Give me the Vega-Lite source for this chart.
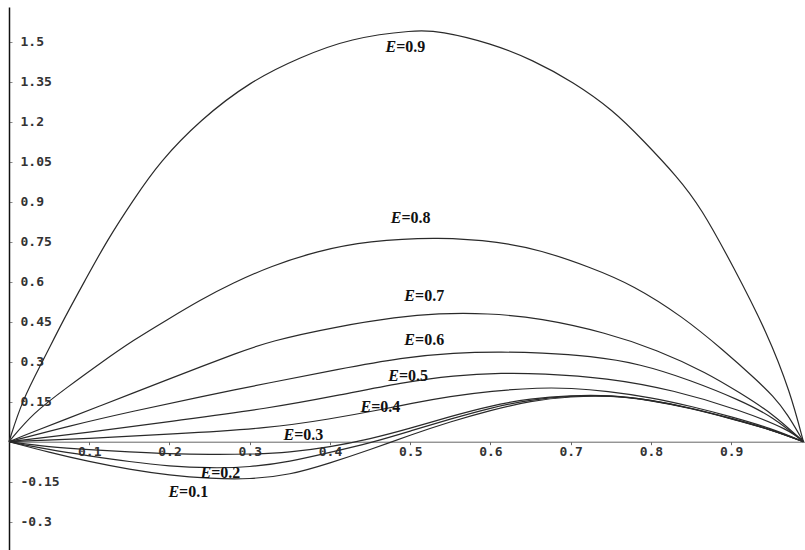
{
  "$schema": "https://vega.github.io/schema/vega-lite/v6.json",
  "width": 796,
  "height": 543,
  "autosize": {"type": "none"},
  "padding": {"left": 9, "top": 7, "right": 0, "bottom": 0},
  "background": "white",
  "config": {"view": {"stroke": null}},
  "datasets": {
    "curves": [
      {"E": "0.9", "x": 0, "y": 0}, {"E": "0.9", "x": 0.0165, "y": 0.156}, {"E": "0.9", "x": 0.0427, "y": 0.306}, {"E": "0.9", "x": 0.0676, "y": 0.456}, {"E": "0.9", "x": 0.095, "y": 0.606}, {"E": "0.9", "x": 0.1224, "y": 0.756}, {"E": "0.9", "x": 0.1548, "y": 0.906}, {"E": "0.9", "x": 0.188, "y": 1.05}, {"E": "0.9", "x": 0.238, "y": 1.206}, {"E": "0.9", "x": 0.301, "y": 1.352}, {"E": "0.9", "x": 0.363, "y": 1.442}, {"E": "0.9", "x": 0.425, "y": 1.513}, {"E": "0.9", "x": 0.506, "y": 1.544}, {"E": "0.9", "x": 0.537, "y": 1.54}, {"E": "0.9", "x": 0.6, "y": 1.495}, {"E": "0.9", "x": 0.653, "y": 1.431}, {"E": "0.9", "x": 0.703, "y": 1.349}, {"E": "0.9", "x": 0.753, "y": 1.243}, {"E": "0.9", "x": 0.79, "y": 1.131}, {"E": "0.9", "x": 0.833, "y": 0.993}, {"E": "0.9", "x": 0.862, "y": 0.88}, {"E": "0.9", "x": 0.903, "y": 0.655}, {"E": "0.9", "x": 0.945, "y": 0.408}, {"E": "0.9", "x": 0.974, "y": 0.183}, {"E": "0.9", "x": 0.99, "y": 0},

      {"E": "0.8", "x": 0, "y": 0}, {"E": "0.8", "x": 0.03, "y": 0.108}, {"E": "0.8", "x": 0.073, "y": 0.205}, {"E": "0.8", "x": 0.114, "y": 0.295}, {"E": "0.8", "x": 0.155, "y": 0.381}, {"E": "0.8", "x": 0.197, "y": 0.457}, {"E": "0.8", "x": 0.238, "y": 0.531}, {"E": "0.8", "x": 0.279, "y": 0.595}, {"E": "0.8", "x": 0.326, "y": 0.658}, {"E": "0.8", "x": 0.384, "y": 0.715}, {"E": "0.8", "x": 0.447, "y": 0.753}, {"E": "0.8", "x": 0.537, "y": 0.768}, {"E": "0.8", "x": 0.612, "y": 0.749}, {"E": "0.8", "x": 0.662, "y": 0.719}, {"E": "0.8", "x": 0.724, "y": 0.655}, {"E": "0.8", "x": 0.778, "y": 0.587}, {"E": "0.8", "x": 0.84, "y": 0.468}, {"E": "0.8", "x": 0.89, "y": 0.344}, {"E": "0.8", "x": 0.932, "y": 0.231}, {"E": "0.8", "x": 0.952, "y": 0.172}, {"E": "0.8", "x": 0.97, "y": 0.105}, {"E": "0.8", "x": 0.99, "y": 0},

      {"E": "0.7", "x": 0, "y": 0}, {"E": "0.7", "x": 0.03, "y": 0.037}, {"E": "0.7", "x": 0.073, "y": 0.087}, {"E": "0.7", "x": 0.114, "y": 0.135}, {"E": "0.7", "x": 0.155, "y": 0.183}, {"E": "0.7", "x": 0.197, "y": 0.232}, {"E": "0.7", "x": 0.238, "y": 0.28}, {"E": "0.7", "x": 0.279, "y": 0.327}, {"E": "0.7", "x": 0.326, "y": 0.378}, {"E": "0.7", "x": 0.409, "y": 0.432}, {"E": "0.7", "x": 0.484, "y": 0.468}, {"E": "0.7", "x": 0.534, "y": 0.481}, {"E": "0.7", "x": 0.596, "y": 0.482}, {"E": "0.7", "x": 0.662, "y": 0.464}, {"E": "0.7", "x": 0.745, "y": 0.408}, {"E": "0.7", "x": 0.808, "y": 0.344}, {"E": "0.7", "x": 0.87, "y": 0.258}, {"E": "0.7", "x": 0.911, "y": 0.183}, {"E": "0.7", "x": 0.952, "y": 0.105}, {"E": "0.7", "x": 0.99, "y": 0},

      {"E": "0.6", "x": 0, "y": 0}, {"E": "0.6", "x": 0.073, "y": 0.058}, {"E": "0.6", "x": 0.155, "y": 0.115}, {"E": "0.6", "x": 0.238, "y": 0.168}, {"E": "0.6", "x": 0.326, "y": 0.222}, {"E": "0.6", "x": 0.409, "y": 0.271}, {"E": "0.6", "x": 0.491, "y": 0.316}, {"E": "0.6", "x": 0.554, "y": 0.334}, {"E": "0.6", "x": 0.616, "y": 0.337}, {"E": "0.6", "x": 0.662, "y": 0.333}, {"E": "0.6", "x": 0.724, "y": 0.322}, {"E": "0.6", "x": 0.787, "y": 0.292}, {"E": "0.6", "x": 0.849, "y": 0.231}, {"E": "0.6", "x": 0.911, "y": 0.156}, {"E": "0.6", "x": 0.952, "y": 0.093}, {"E": "0.6", "x": 0.99, "y": 0},

      {"E": "0.5", "x": 0, "y": 0}, {"E": "0.5", "x": 0.1, "y": 0.035}, {"E": "0.5", "x": 0.2, "y": 0.076}, {"E": "0.5", "x": 0.326, "y": 0.126}, {"E": "0.5", "x": 0.409, "y": 0.173}, {"E": "0.5", "x": 0.491, "y": 0.223}, {"E": "0.5", "x": 0.554, "y": 0.249}, {"E": "0.5", "x": 0.616, "y": 0.258}, {"E": "0.5", "x": 0.662, "y": 0.256}, {"E": "0.5", "x": 0.745, "y": 0.24}, {"E": "0.5", "x": 0.828, "y": 0.194}, {"E": "0.5", "x": 0.911, "y": 0.119}, {"E": "0.5", "x": 0.973, "y": 0.044}, {"E": "0.5", "x": 0.99, "y": 0},

      {"E": "0.4", "x": 0, "y": 0}, {"E": "0.4", "x": 0.1, "y": 0.012}, {"E": "0.4", "x": 0.2, "y": 0.028}, {"E": "0.4", "x": 0.326, "y": 0.051}, {"E": "0.4", "x": 0.4, "y": 0.085}, {"E": "0.4", "x": 0.463, "y": 0.12}, {"E": "0.4", "x": 0.5, "y": 0.143}, {"E": "0.4", "x": 0.55, "y": 0.17}, {"E": "0.4", "x": 0.6, "y": 0.19}, {"E": "0.4", "x": 0.662, "y": 0.203}, {"E": "0.4", "x": 0.7, "y": 0.201}, {"E": "0.4", "x": 0.745, "y": 0.19}, {"E": "0.4", "x": 0.8, "y": 0.166}, {"E": "0.4", "x": 0.85, "y": 0.133}, {"E": "0.4", "x": 0.9, "y": 0.094}, {"E": "0.4", "x": 0.95, "y": 0.05}, {"E": "0.4", "x": 0.99, "y": 0},

      {"E": "0.3", "x": 0, "y": 0}, {"E": "0.3", "x": 0.05, "y": -0.02}, {"E": "0.3", "x": 0.1, "y": -0.03}, {"E": "0.3", "x": 0.15, "y": -0.038}, {"E": "0.3", "x": 0.2, "y": -0.045}, {"E": "0.3", "x": 0.25, "y": -0.048}, {"E": "0.3", "x": 0.3, "y": -0.047}, {"E": "0.3", "x": 0.35, "y": -0.04}, {"E": "0.3", "x": 0.4, "y": -0.02}, {"E": "0.3", "x": 0.45, "y": 0.01}, {"E": "0.3", "x": 0.5, "y": 0.05}, {"E": "0.3", "x": 0.55, "y": 0.095}, {"E": "0.3", "x": 0.6, "y": 0.135}, {"E": "0.3", "x": 0.65, "y": 0.162}, {"E": "0.3", "x": 0.7, "y": 0.174}, {"E": "0.3", "x": 0.75, "y": 0.175}, {"E": "0.3", "x": 0.8, "y": 0.157}, {"E": "0.3", "x": 0.85, "y": 0.127}, {"E": "0.3", "x": 0.9, "y": 0.088}, {"E": "0.3", "x": 0.95, "y": 0.046}, {"E": "0.3", "x": 0.99, "y": 0},

      {"E": "0.2", "x": 0, "y": 0}, {"E": "0.2", "x": 0.05, "y": -0.03}, {"E": "0.2", "x": 0.1, "y": -0.053}, {"E": "0.2", "x": 0.15, "y": -0.075}, {"E": "0.2", "x": 0.2, "y": -0.092}, {"E": "0.2", "x": 0.25, "y": -0.099}, {"E": "0.2", "x": 0.3, "y": -0.096}, {"E": "0.2", "x": 0.35, "y": -0.075}, {"E": "0.2", "x": 0.4, "y": -0.04}, {"E": "0.2", "x": 0.45, "y": -0.005}, {"E": "0.2", "x": 0.5, "y": 0.04}, {"E": "0.2", "x": 0.55, "y": 0.085}, {"E": "0.2", "x": 0.6, "y": 0.127}, {"E": "0.2", "x": 0.65, "y": 0.158}, {"E": "0.2", "x": 0.7, "y": 0.172}, {"E": "0.2", "x": 0.75, "y": 0.174}, {"E": "0.2", "x": 0.8, "y": 0.156}, {"E": "0.2", "x": 0.85, "y": 0.126}, {"E": "0.2", "x": 0.9, "y": 0.087}, {"E": "0.2", "x": 0.95, "y": 0.045}, {"E": "0.2", "x": 0.99, "y": 0},

      {"E": "0.1", "x": 0, "y": 0}, {"E": "0.1", "x": 0.05, "y": -0.04}, {"E": "0.1", "x": 0.1, "y": -0.075}, {"E": "0.1", "x": 0.15, "y": -0.104}, {"E": "0.1", "x": 0.2, "y": -0.126}, {"E": "0.1", "x": 0.25, "y": -0.138}, {"E": "0.1", "x": 0.3, "y": -0.141}, {"E": "0.1", "x": 0.35, "y": -0.125}, {"E": "0.1", "x": 0.4, "y": -0.08}, {"E": "0.1", "x": 0.45, "y": -0.03}, {"E": "0.1", "x": 0.5, "y": 0.025}, {"E": "0.1", "x": 0.55, "y": 0.075}, {"E": "0.1", "x": 0.6, "y": 0.118}, {"E": "0.1", "x": 0.65, "y": 0.153}, {"E": "0.1", "x": 0.7, "y": 0.17}, {"E": "0.1", "x": 0.75, "y": 0.173}, {"E": "0.1", "x": 0.8, "y": 0.155}, {"E": "0.1", "x": 0.85, "y": 0.125}, {"E": "0.1", "x": 0.9, "y": 0.086}, {"E": "0.1", "x": 0.95, "y": 0.045}, {"E": "0.1", "x": 0.99, "y": 0}
    ],
    "labels": [
      {"E": "0.9", "t": "=0.9", "lx": 0.4826, "ly": 1.48},
      {"E": "0.8", "t": "=0.8", "lx": 0.489, "ly": 0.838},
      {"E": "0.7", "t": "=0.7", "lx": 0.506, "ly": 0.546},
      {"E": "0.6", "t": "=0.6", "lx": 0.506, "ly": 0.381},
      {"E": "0.5", "t": "=0.5", "lx": 0.486, "ly": 0.246},
      {"E": "0.4", "t": "=0.4", "lx": 0.4514, "ly": 0.13},
      {"E": "0.3", "t": "=0.3", "lx": 0.3554, "ly": 0.025},
      {"E": "0.2", "t": "=0.2", "lx": 0.252, "ly": -0.117},
      {"E": "0.1", "t": "=0.1", "lx": 0.212, "ly": -0.189}
    ]
  },
  "layer": [
    {
      "data": {"name": "curves"},
      "mark": {"type": "line", "interpolate": "basis", "color": "#2a2a2a", "strokeWidth": 1.2},
      "encoding": {
        "x": {
          "field": "x", "type": "quantitative",
          "scale": {"domain": [0, 0.992], "nice": false, "zero": false},
          "axis": {
            "values": [0.1, 0.2, 0.3, 0.4, 0.5, 0.6, 0.7, 0.8, 0.9],
            "format": ".1f",
            "offset": -108.3,
            "title": null, "grid": false,
            "domainColor": "#666", "domainWidth": 1,
            "tickColor": "#666", "tickSize": 3,
            "labelFont": "DejaVu Sans Mono", "labelFontSize": 13, "labelFontWeight": "bold",
            "labelColor": "#333", "labelPadding": 1,
            "labelFlush": false, "labelOverlap": false
          }
        },
        "y": {
          "field": "y", "type": "quantitative",
          "scale": {"domain": [-0.406, 1.63], "nice": false, "zero": false},
          "axis": {
            "values": [-0.3, -0.15, 0.15, 0.3, 0.45, 0.6, 0.75, 0.9, 1.05, 1.2, 1.35, 1.5],
            "labelExpr": "datum.value < 0 ? '-' + format(-datum.value, '.2~f') : format(datum.value, '.2~f')",
            "title": null, "grid": false,
            "domainColor": "#111", "domainWidth": 1.5,
            "tickColor": "#888", "tickSize": -3,
            "labelFont": "DejaVu Sans Mono", "labelFontSize": 13, "labelFontWeight": "bold",
            "labelColor": "#333", "labelAlign": "left", "labelBaseline": "middle",
            "labelPadding": -8, "labelFlush": false, "labelOverlap": false
          }
        },
        "detail": {"field": "E", "type": "nominal"}
      }
    },
    {
      "data": {"name": "labels"},
      "mark": {"type": "text", "align": "right", "baseline": "middle", "font": "Liberation Serif", "fontSize": 16, "fontStyle": "italic", "fontWeight": "bold", "color": "#111"},
      "encoding": {
        "x": {"field": "lx", "type": "quantitative"},
        "y": {"field": "ly", "type": "quantitative"},
        "text": {"value": "E"}
      }
    },
    {
      "data": {"name": "labels"},
      "mark": {"type": "text", "align": "left", "baseline": "middle", "font": "Liberation Serif", "fontSize": 16, "fontWeight": "bold", "color": "#111"},
      "encoding": {
        "x": {"field": "lx", "type": "quantitative"},
        "y": {"field": "ly", "type": "quantitative"},
        "text": {"field": "t"}
      }
    }
  ]
}
